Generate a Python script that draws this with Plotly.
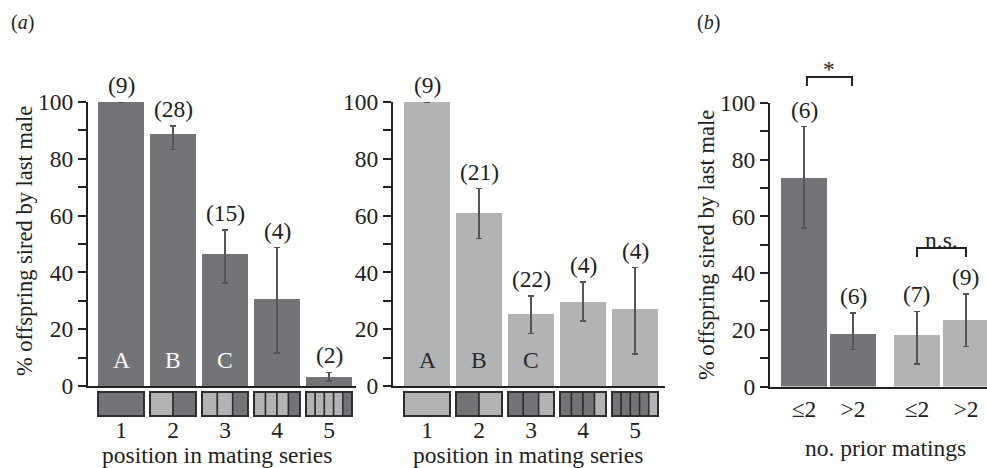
import plotly.graph_objects as go

# ---------------- data ----------------
positions = [1, 2, 3, 4, 5]
pos_labels = ["1", "2", "3", "4", "5"]
letters = ["A", "B", "C", "", ""]

# panel (a) left
left_mean = [100, 88.7, 46.5, 30.6, 3.0]
left_hi = [100, 91.6, 54.9, 48.7, 4.8]
left_lo = [100, 83.3, 36.2, 11.7, 1.8]
left_n = ["(9)", "(28)", "(15)", "(4)", "(2)"]

# panel (a) right
right_mean = [100, 60.8, 25.4, 29.6, 27.1]
right_hi = [100, 69.5, 31.7, 36.7, 41.7]
right_lo = [100, 51.9, 18.5, 22.9, 11.3]
right_n = ["(9)", "(21)", "(22)", "(4)", "(4)"]

# panel (b)
b_groups = [0, 0, 1, 1]
b_sub = [0, 1, 0, 1]
b_labels = ["≤2", ">2", "≤2", ">2"]
b_mean = [73.5, 18.6, 18.0, 23.6]
b_hi = [91.7, 25.9, 26.5, 32.6]
b_lo = [55.9, 13.0, 7.9, 14.1]
b_n = ["(6)", "(6)", "(7)", "(9)"]

DARK = "rgb(115,116,120)"
LIGHT = "rgb(178,179,181)"
FONT = "Liberation Serif, Times New Roman, serif"
INK = "#222222"
W, H = 987, 468
FS = 23.5


def px_x(p):
    return p / W


def px_y(p):
    return 1 - p / H


fig = go.Figure()

GROUP_GAP = 2.306
b_x = [g * GROUP_GAP + s + 1 for g, s in zip(b_groups, b_sub)]


def add_bars(xs, mean, hi, lo, color, xa, ya, width):
    fig.add_trace(go.Bar(
        x=xs, y=mean, width=width, marker=dict(color=color, line=dict(width=0)),
        error_y=dict(type="data", symmetric=False,
                     array=[h - m for h, m in zip(hi, mean)],
                     arrayminus=[m - l for m, l in zip(mean, lo)],
                     color="#555555", thickness=1.6, width=3),
        xaxis=xa, yaxis=ya, showlegend=False, cliponaxis=False, hoverinfo="skip"))


add_bars(positions, left_mean, left_hi, left_lo, DARK, "x", "y", 46 / 52)
add_bars(positions, right_mean, right_hi, right_lo, LIGHT, "x2", "y2", 46 / 52)
add_bars(b_x, b_mean, b_hi, b_lo, [DARK, DARK, LIGHT, LIGHT], "x3", "y3", 46 / 49)

annotations = []


def txt(**kw):
    size = kw.pop("size", FS)
    color = kw.pop("color", INK)
    d = dict(showarrow=False, xanchor="center", yanchor="middle",
             font=dict(family=FONT, size=size, color=color))
    d.update(kw)
    annotations.append(d)


def add_counts(xs, hi, labels, xref, yref):
    for x, h, t in zip(xs, hi, labels):
        txt(x=x, y=h, xref=xref, yref=yref, text=t, yshift=17)


add_counts(positions, left_hi, left_n, "x", "y")
add_counts(positions, right_hi, right_n, "x2", "y2")
add_counts(b_x, b_hi, b_n, "x3", "y3")

for x, t in zip(positions, letters):
    if t:
        txt(x=x, y=9.2, xref="x", yref="y", text=t, color="white")
        txt(x=x, y=9.2, xref="x2", yref="y2", text=t, color="#2a2a2a")

# mating-series glyph boxes under bars
shapes = []
box_top, box_bot = px_y(392), px_y(416)


def add_boxes(xref, width, last_color, prev_color):
    for n in positions:
        x0 = n - width / 2
        seg = width / n
        for k in range(n):
            col = last_color if k == n - 1 else prev_color
            shapes.append(dict(type="rect", xref=xref, yref="paper",
                               x0=x0 + k * seg, x1=x0 + (k + 1) * seg,
                               y0=box_bot, y1=box_top, fillcolor=col,
                               line=dict(color="#2e2e2e", width=1.5)))
        shapes.append(dict(type="rect", xref=xref, yref="paper", x0=x0, x1=x0 + width,
                           y0=box_bot, y1=box_top, fillcolor="rgba(0,0,0,0)",
                           line=dict(color="#2e2e2e", width=2)))


add_boxes("x", 46 / 52, DARK, LIGHT)
add_boxes("x2", 46 / 52, LIGHT, DARK)


# significance brackets (panel b), vertical placement in page pixels
def bracket(xa, xb, ytop_px, yleg_px, label, ylab_px):
    shapes.append(dict(type="path", xref="x3", yref="paper",
                       path=f"M {xa},{px_y(yleg_px)} L {xa},{px_y(ytop_px)} "
                            f"L {xb},{px_y(ytop_px)} L {xb},{px_y(yleg_px)}",
                       line=dict(color=INK, width=2)))
    txt(x=(xa + xb) / 2, y=px_y(ylab_px), xref="x3", yref="paper", text=label)


bracket(b_x[0] + 0.06, b_x[1] - 0.02, 77, 86, "*", 69)
bracket(b_x[2], b_x[3], 248, 257, "n.s.", 240)

txt(x=px_x(217), y=px_y(455), xref="paper", yref="paper", text="position in mating series")
txt(x=px_x(528), y=px_y(455), xref="paper", yref="paper", text="position in mating series")
txt(x=px_x(885), y=px_y(448), xref="paper", yref="paper", text="no. prior matings")
txt(x=px_x(25), y=px_y(241), xref="paper", yref="paper", text="% offspring sired by last male",
    textangle=-90, size=22.5)
txt(x=px_x(706), y=px_y(245), xref="paper", yref="paper", text="% offspring sired by last male",
    textangle=-90, size=22.5)
txt(x=px_x(22), y=px_y(22), xref="paper", yref="paper", text="(<i>a</i>)", size=20)
txt(x=px_x(708), y=px_y(22), xref="paper", yref="paper", text="(<i>b</i>)", size=20)

ytickvals = list(range(0, 101, 10))
yticktext = [str(v) if v % 20 == 0 else "" for v in ytickvals]

yax = dict(range=[0, 100], tickvals=ytickvals, ticktext=yticktext, ticks="outside",
           ticklen=8, tickwidth=2, tickcolor=INK, showline=True, linewidth=2.2, linecolor=INK,
           showgrid=False, zeroline=False, tickfont=dict(family=FONT, size=FS, color=INK),
           fixedrange=True, automargin=False)

xax = dict(tickvals=positions, ticktext=pos_labels, ticks="", showline=True, linewidth=2.2,
           linecolor=INK, showgrid=False, zeroline=False, ticklabelstandoff=22,
           tickfont=dict(family=FONT, size=FS, color=INK), fixedrange=True, automargin=False)

fig.update_layout(
    template="none",
    width=W, height=H, autosize=False,
    margin=dict(l=0, r=0, t=0, b=0, pad=0),
    paper_bgcolor="white", plot_bgcolor="white",
    font=dict(family=FONT, size=FS, color=INK),
    bargap=0,
    xaxis=dict(xax, domain=[px_x(88), px_x(356)], range=[0.365, 5.519], anchor="y"),
    yaxis=dict(yax, domain=[px_y(386), px_y(102)], anchor="x"),
    xaxis2=dict(xax, domain=[px_x(393), px_x(665)], range=[0.346, 5.577], anchor="y2"),
    yaxis2=dict(yax, domain=[px_y(386), px_y(102)], anchor="x2"),
    xaxis3=dict(xax, tickvals=b_x, ticktext=b_labels, ticklabelstandoff=0,
                domain=[px_x(770), 1.0], range=[0.306, 4.735], anchor="y3"),
    yaxis3=dict(yax, domain=[px_y(386.5), px_y(103)], anchor="x3"),
    shapes=shapes,
    annotations=annotations,
)

fig.write_html("out.html", config={"displayModeBar": False},
               post_script="document.body.style.margin='0';")
